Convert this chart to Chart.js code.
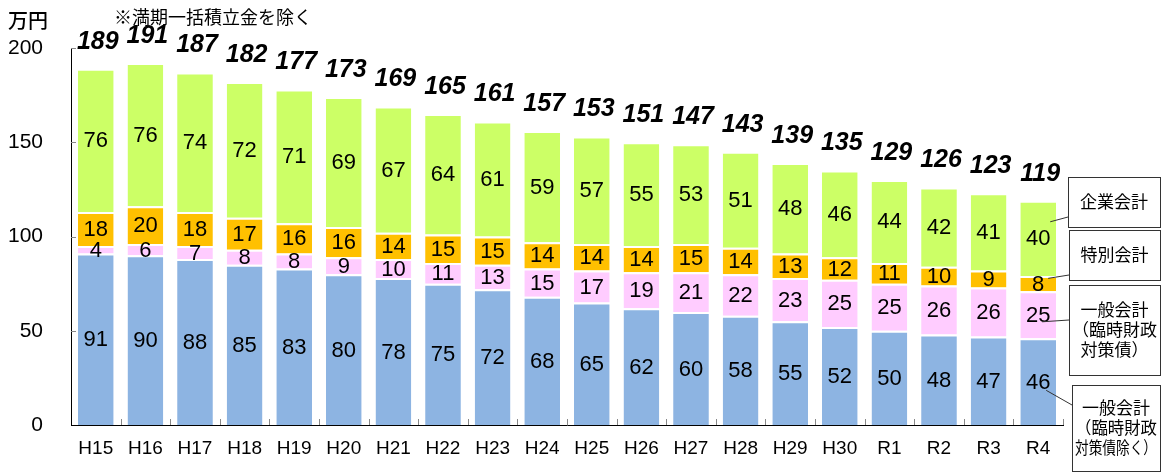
<!DOCTYPE html>
<html>
<head>
<meta charset="utf-8">
<script src="https://cdn.jsdelivr.net/npm/chart.js@4.4.1/dist/chart.umd.min.js"></script>
<style>
  html, body { margin: 0; padding: 0; background: #fff; }
  #wrap { width: 1163px; height: 472px; position: relative; }
</style>
</head>
<body>
<div id="wrap"><canvas id="chart" width="1163" height="472"></canvas></div>
<script>
// chart data
const categories = ['H15','H16','H17','H18','H19','H20','H21','H22','H23','H24','H25','H26','H27','H28','H29','H30','R1','R2','R3','R4'];
const generalExcl = [91,90,88,85,83,80,78,75,72,68,65,62,60,58,55,52,50,48,47,46];
const generalTemp = [4,6,7,8,8,9,10,11,13,15,17,19,21,22,23,25,25,26,26,25];
const specialAcc  = [18,20,18,17,16,16,14,15,15,14,14,14,15,14,13,12,11,10,9,8];
const enterprise  = [76,76,74,72,71,69,67,64,61,59,57,55,53,51,48,46,44,42,41,40];
const totals      = [189,191,187,182,177,173,169,165,161,157,153,151,147,143,139,135,129,126,123,119];

const NUM_FONT = '"Liberation Sans", Arial, sans-serif';
const TOTAL_FONT = '"Liberation Sans Narrow", "Liberation Sans", Arial, sans-serif';
const JP_FONT = '"Noto Sans CJK JP", sans-serif';

// callout boxes on the right, one per dataset
const callouts = [
  { ds: 3, lines: ['企業会計'], box: [1068, 177, 92, 50], end: [1068, 217], fx: 12, fy: 0.28 },
  { ds: 2, lines: ['特別会計'], box: [1069, 230, 91, 50], end: [1069, 275], fx: 10, fy: 0.15 },
  { ds: 1, lines: ['一般会計', '（臨時財政', '対策債）'], box: [1069, 285, 91, 90], end: [1069, 320], fx: 4, fy: 0.65 },
  { ds: 0, lines: ['一般会計', '（臨時財政', '対策債除く）'], box: [1072, 385, 88, 86], end: [1072, 405], fx: 8, fy: 0.6 }
];

const labelPlugin = {
  id: 'labels',
  afterDatasetsDraw(chart) {
    const ctx = chart.ctx;
    const yScale = chart.scales.y;
    const area = chart.chartArea;

    // inward tick marks
    ctx.save();
    ctx.strokeStyle = '#888';
    ctx.lineWidth = 1;
    [50, 100, 150, 200].forEach(v => {
      const y = Math.round(yScale.getPixelForValue(v)) + 0.5;
      ctx.beginPath();
      ctx.moveTo(area.left, y);
      ctx.lineTo(area.left + 5, y);
      ctx.stroke();
    });
    const step = (area.right - area.left) / categories.length;
    for (let i = 1; i <= categories.length; i++) {
      const x = Math.round(area.left + step * i) + 0.5;
      ctx.beginPath();
      ctx.moveTo(x, area.bottom);
      ctx.lineTo(x, area.bottom - 6);
      ctx.stroke();
    }
    ctx.restore();

    // values inside segments
    ctx.save();
    ctx.fillStyle = '#000';
    ctx.font = '22px ' + NUM_FONT;
    ctx.textAlign = 'center';
    ctx.textBaseline = 'middle';
    chart.data.datasets.forEach((ds, di) => {
      const meta = chart.getDatasetMeta(di);
      meta.data.forEach((el, i) => {
        const cy = (el.y + el.base) / 2;
        ctx.fillText(String(ds.data[i]), el.x, cy + 1);
      });
    });

    // totals above bars
    ctx.font = 'italic bold 25px ' + TOTAL_FONT;
    const topMeta = chart.getDatasetMeta(3);
    topMeta.data.forEach((el, i) => {
      ctx.fillText(String(totals[i]), el.x + 2, el.y - 27);
    });
    ctx.restore();

    // header texts
    ctx.save();
    ctx.fillStyle = '#000';
    ctx.textBaseline = 'middle';
    ctx.font = '500 20px ' + JP_FONT;
    ctx.fillText('万円', 8, 20);
    ctx.font = '18px ' + JP_FONT;
    ctx.fillText('※満期一括積立金を除く', 114, 17);
    ctx.restore();

    // callout boxes
    ctx.save();
    ctx.strokeStyle = '#333';
    ctx.lineWidth = 1;
    ctx.fillStyle = '#000';
    ctx.font = '17px ' + JP_FONT;
    ctx.textAlign = 'center';
    ctx.textBaseline = 'middle';
    callouts.forEach(c => {
      const el = chart.getDatasetMeta(c.ds).data[categories.length - 1];
      const sx = el.x + c.fx;
      const sy = el.y + (el.base - el.y) * c.fy;
      ctx.beginPath();
      ctx.moveTo(sx, sy);
      ctx.lineTo(c.end[0], c.end[1]);
      ctx.stroke();
      const [bx, by, bw, bh] = c.box;
      ctx.strokeRect(bx + 0.5, by + 0.5, bw, bh);
      const cx = bx + bw / 2;
      const lh = 20;
      const startY = by + bh / 2 - (c.lines.length - 1) * lh / 2;
      c.lines.forEach((t, k) => ctx.fillText(t, cx, startY + k * lh, bw - 6));
    });
    ctx.restore();
  }
};

const barStyle = {
  borderColor: '#ffffff',
  borderWidth: { top: 2, left: 0, right: 0, bottom: 0 },
  borderSkipped: 'start',
  barPercentage: 0.72,
  categoryPercentage: 1.0
};

new Chart(document.getElementById('chart'), {
  type: 'bar',
  data: {
    labels: categories,
    datasets: [
      { label: '一般会計（臨時財政対策債除く）', data: generalExcl, backgroundColor: '#8DB4E2', ...barStyle },
      { label: '一般会計（臨時財政対策債）', data: generalTemp, backgroundColor: '#FFCCFF', ...barStyle },
      { label: '特別会計', data: specialAcc, backgroundColor: '#FFC000', ...barStyle },
      { label: '企業会計', data: enterprise, backgroundColor: '#CCFF66', ...barStyle }
    ]
  },
  options: {
    responsive: false,
    animation: false,
    layout: { padding: { top: 48, right: 100, left: 0, bottom: 0 } },
    plugins: {
      legend: { display: false },
      tooltip: { enabled: false }
    },
    scales: {
      x: {
        stacked: true,
        grid: { display: false, drawTicks: false },
        border: { display: true, color: '#000', width: 1 },
        ticks: { color: '#000', font: { family: NUM_FONT, size: 19 }, padding: 12, maxRotation: 0, autoSkip: false },
        afterFit(scale) { scale.height = 47; }
      },
      y: {
        stacked: true,
        min: 0,
        max: 200,
        grid: { display: false, drawTicks: false },
        border: { display: true, color: '#000', width: 1 },
        ticks: { stepSize: 50, color: '#000', font: { family: NUM_FONT, size: 21 }, padding: 28 },
        afterFit(scale) { scale.width = 71; }
      }
    }
  },
  plugins: [labelPlugin]
});
</script>
</body>
</html>
